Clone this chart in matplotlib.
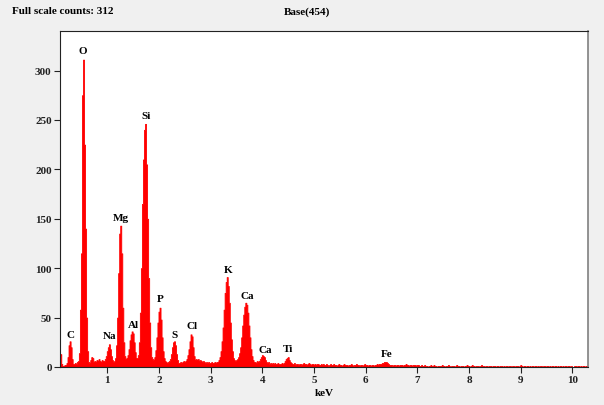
import numpy as np
import matplotlib
matplotlib.use("Agg")
from matplotlib import pyplot as plt

plt.rcParams['font.family'] = ['Liberation Serif', 'DejaVu Serif']
plt.rcParams['font.weight'] = 'bold'

# EDS spectrum, channels of 0.02 keV starting at 0.08 keV
e_start = 0.08
e_step = 0.02
counts = [
    12, 13, 3, 1, 1, 2, 2, 4, 10, 22,          # 0.08
    26, 20, 8, 3, 3, 4, 3, 5, 6, 14,           # 0.28
    58, 115, 275, 311, 225, 140, 50, 16, 5, 4, # 0.48
    7, 10, 9, 5, 6, 5, 7, 6, 8, 6,             # 0.68
    5, 7, 6, 6, 8, 11, 16, 20, 23, 18,         # 0.88
    11, 7, 5, 6, 9, 22, 50, 95, 135, 143,      # 1.08
    115, 60, 25, 11, 8, 9, 12, 18, 27, 33,     # 1.28
    36, 34, 25, 15, 9, 9, 12, 25, 55, 100,     # 1.48
    165, 210, 240, 246, 205, 150, 90, 45, 20, 10,  # 1.68
    8, 7, 10, 17, 30, 45, 56, 60, 48, 30,      # 1.88
    16, 9, 6, 5, 4, 5, 6, 8, 13, 20,           # 2.08
    25, 26, 22, 13, 7, 4, 4, 5, 4, 5,          # 2.28
    6, 5, 6, 8, 12, 18, 26, 33, 31, 20,        # 2.48
    11, 7, 8, 7, 8, 6, 7, 6, 5, 6,             # 2.68
    5, 4, 5, 4, 5, 4, 4, 5, 4, 4,              # 2.88
    5, 4, 5, 5, 7, 10, 16, 26, 40, 58,         # 3.08
    75, 86, 91, 82, 65, 45, 28, 16, 9, 7,      # 3.28
    6, 7, 8, 10, 14, 20, 30, 42, 53, 61,       # 3.48
    65, 63, 55, 42, 30, 18, 11, 7, 5, 5,       # 3.68
    4, 6, 5, 6, 8, 10, 12, 11, 10, 7,          # 3.88
    5, 4, 5, 3, 4, 3, 4, 3, 4, 3,              # 4.08
    3, 4, 3, 3, 3, 4, 3, 4, 6, 8,              # 4.28
    9, 10, 7, 5, 4, 3, 3, 4, 2, 3,             # 4.48
    3, 2, 3, 3, 2, 3, 4, 3, 3, 2,              # 4.68
    3, 4, 3, 2, 3, 3, 2, 3, 2, 3,              # 4.88
    3, 2, 2, 3, 2, 3, 2, 2, 3, 2,              # 5.08
    1, 2, 3, 2, 2, 3, 2, 2, 1, 2,              # 5.28
    3, 2, 2, 1, 2, 3, 2, 2, 2, 1,              # 5.48
    2, 2, 3, 2, 1, 2, 2, 3, 2, 2,              # 5.68
    1, 2, 2, 1, 2, 3, 2, 2, 1, 2,              # 5.88
    2, 1, 2, 2, 1, 2, 2, 3, 2, 3,              # 6.08
    3, 3, 4, 4, 5, 5, 5, 4, 3, 2,              # 6.28
    2, 2, 1, 2, 2, 1, 2, 2, 1, 2,              # 6.48
    2, 2, 1, 2, 2, 3, 2, 2, 1, 2,              # 6.68
    2, 1, 2, 2, 2, 1, 2, 2, 1, 1,              # 6.88
    2, 1, 1, 2, 1, 1, 0, 1, 1, 2,              # 7.08
    1, 1, 2, 1, 1, 0, 1, 1, 1, 1,              # 7.28
    2, 1, 1, 0, 1, 1, 2, 1, 0, 1,              # 7.48
    1, 1, 0, 1, 2, 1, 1, 0, 1, 1,              # 7.68
    1, 0, 1, 1, 2, 1, 1, 0, 1, 2,              # 7.88
    1, 1, 0, 1, 1, 1, 0, 1, 2, 1,              # 8.08
    1, 0, 1, 1, 0, 1, 1, 1, 0, 1,              # 8.28
    1, 1, 0, 1, 1, 0, 1, 1, 1, 0,              # 8.48
    1, 0, 1, 1, 0, 1, 1, 0, 1, 1,              # 8.68
    0, 1, 1, 1, 0, 1, 2, 1, 0, 1,              # 8.88
    1, 0, 1, 1, 0, 1, 0, 1, 1, 0,              # 9.08
    1, 1, 0, 1, 0, 1, 1, 0, 1, 1,              # 9.28
    0, 1, 1, 0, 1, 0, 1, 1, 0, 1,              # 9.48
    1, 0, 1, 0, 1, 1, 0, 1, 0, 1,              # 9.68
    1, 0, 1, 1, 0, 1, 0, 0, 1, 1,              # 9.88
    0, 1, 1, 0, 1, 0, 1, 1, 0, 1,              # 10.08
    1, 0,                                      # 10.28
]

# peak labels: element, energy (keV), label height (counts)
elements = ['C', 'O', 'Na', 'Mg', 'Al', 'Si', 'P', 'S', 'Cl', 'K', 'Ca', 'Ca', 'Ti', 'Fe']
label_e = [0.28, 0.52, 1.04, 1.26, 1.50, 1.75, 2.02, 2.31, 2.64, 3.33, 3.70, 4.05, 4.50, 6.40]
label_y = [33, 320, 32, 151, 43, 254, 69, 33, 42, 99, 72, 18, 19, 14]

energy = e_start + e_step * np.arange(len(counts))

fig = plt.figure(figsize=(6.04, 4.06), dpi=100, facecolor='#f0f0f0')
ax = fig.add_axes([60/604, 38/406, 528/604, 336/406])
ax.set_facecolor('white')

ax.fill_between(energy, counts, step='mid', color='#ff0000', linewidth=0.6, edgecolor='#ff0000')

for name, x, y in zip(elements, label_e, label_y):
    ax.text(x, y, name, ha='center', va='center', fontsize=8, fontweight='bold')

ax.set_xlim(0.085, 10.3)
ax.set_ylim(0, 340)
ax.set_xticks(range(1, 11))
ax.set_yticks(range(0, 301, 50))
ax.tick_params(direction='out', length=4, width=0.8, labelsize=8, pad=2, colors='#222222')
ax.set_xlabel('keV', fontsize=8, fontweight='bold', labelpad=3)

for s in ['left', 'top', 'bottom']:
    ax.spines[s].set_color('#222222')
ax.spines['right'].set_color('#808080')
ax.spines['right'].set_linewidth(1.2)

fig.text(12/604, 1 - 12/406, 'Full scale counts: 312', fontsize=8, fontweight='bold', va='center')
fig.text(307/604, 1 - 12/406, 'Base(454)', fontsize=8, fontweight='bold', ha='center', va='center')

fig.savefig('out.png', dpi=100, facecolor=fig.get_facecolor())
